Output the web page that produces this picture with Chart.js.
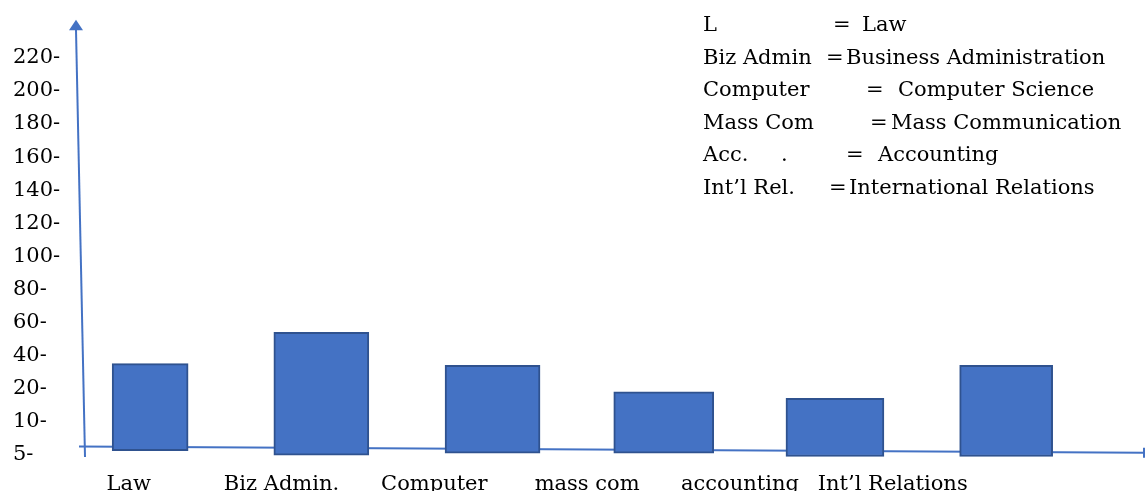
<!DOCTYPE html>
<html>
<head>
<meta charset="utf-8">
<script src="https://cdn.jsdelivr.net/npm/chart.js@4.4.1/dist/chart.umd.min.js"></script>
<style>
  html, body { margin: 0; padding: 0; background: #fff; }
  #wrap { width: 1145px; height: 491px; position: relative; }
</style>
</head>
<body>
<div id="wrap"><canvas id="c"></canvas></div>
<script>
// Programmes and number of students in each
const programmes = ['Law', 'Biz Admin.', 'Computer', 'mass com', 'accounting', 'Int\u2019l Relations'];
const students = [35, 54, 34, 19, 17, 34];
// hand-drawn bars do not all start exactly at the baseline
const barBase = [5.6, 4.9, 5.2, 5.2, 4.7, 4.7];

// The vertical axis is marked at uneven steps, each step the same height
const yTickValues = [5, 10, 20, 40, 60, 80, 100, 120, 140, 160, 180, 200, 220];
const yTickLabels = yTickValues.map(v => v + '-');

// Key of abbreviations
const keyShort = ['L', 'Biz Admin', 'Computer', 'Mass Com', 'Acc.', 'Int\u2019l Rel.'];
const keyFull = ['Law', 'Business Administration', 'Computer Science', 'Mass Communication', 'Accounting', 'International Relations'];

// layout of the key (pixel columns for "=" and the full name)
const keyEqX = [833, 826, 866, 870, 846, 829];
const keyDefX = [862, 846, 898, 891, 878, 849];
const barWidths = [76, 95, 95, 100, 98, 93];

const FONT = '"DejaVu Serif", "Liberation Serif", serif';
const FONT_SIZE = 21;
const BLUE = '#4472c4';
const BLUE_DARK = '#2f528f';

// value -> position on the stepped axis (one unit per marked step)
function axisPos(v) {
  const t = yTickValues;
  if (v <= t[0]) return (v - t[0]) / (t[1] - t[0]);
  for (let i = 1; i < t.length; i++) {
    if (v <= t[i]) return i - 1 + (v - t[i - 1]) / (t[i] - t[i - 1]);
  }
  return t.length - 1;
}

const datasets = programmes.map((p, i) => ({
  label: p,
  data: [{ x: i, y: [axisPos(barBase[i]), axisPos(students[i])] }],
  barThickness: barWidths[i],
  grouped: false,
  backgroundColor: BLUE,
  borderColor: BLUE_DARK,
  borderWidth: 2,
  borderSkipped: false,
  xAxisID: 'x',
  yAxisID: 'y'
}));

const sketchAxes = {
  id: 'sketchAxes',
  beforeDatasetsDraw(chart) {
    const { ctx, chartArea: a, scales: { y } } = chart;
    ctx.save();
    ctx.strokeStyle = BLUE;
    ctx.fillStyle = BLUE;
    ctx.lineWidth = 2;
    ctx.lineCap = 'butt';

    // horizontal axis, drifting slightly downward to the right
    const x0 = a.left + 3, y0 = y.getPixelForValue(0.24);
    const x1 = a.right - 1, y1 = y.getPixelForValue(0.055);
    ctx.beginPath();
    ctx.moveTo(x0, y0);
    ctx.lineTo(x1, y1);
    ctx.stroke();
    ctx.beginPath();
    ctx.moveTo(x1, y1 - 5);
    ctx.lineTo(x1, y1 + 5);
    ctx.stroke();

    // vertical axis leaning slightly, with an arrow head
    const bx = a.left + 9, by = y.getPixelForValue(-0.076);
    const tx = a.left, ty = y.getPixelForValue(12.85);
    ctx.beginPath();
    ctx.moveTo(bx, by);
    ctx.lineTo(tx, ty);
    ctx.stroke();
    ctx.beginPath();
    ctx.moveTo(tx, ty - 10);
    ctx.lineTo(tx - 7, ty + 0.5);
    ctx.lineTo(tx + 7, ty + 0.5);
    ctx.closePath();
    ctx.fill();
    ctx.restore();
  },
  afterDraw(chart) {
    const { ctx } = chart;
    ctx.save();
    ctx.fillStyle = '#000';
    ctx.font = FONT_SIZE + 'px ' + FONT;
    ctx.textAlign = 'left';
    ctx.textBaseline = 'alphabetic';
    keyShort.forEach((s, i) => {
      const by = 31 + i * 32.6;
      ctx.fillText(s, 703, by);
      if (s === 'Acc.') ctx.fillText('.', 781, by);
      ctx.fillText('=', keyEqX[i], by);
      ctx.fillText(keyFull[i], keyDefX[i], by);
    });
    ctx.restore();
  }
};

new Chart(document.getElementById('c'), {
  type: 'bar',
  data: { datasets },
  options: {
    responsive: true,
    maintainAspectRatio: false,
    animation: false,
    events: [],
    layout: { padding: { left: 13, top: 10, right: 0, bottom: 0 } },
    plugins: { legend: { display: false }, tooltip: { enabled: false } },
    scales: {
      x: {
        type: 'linear',
        display: false,
        offset: false,
        min: -0.433,
        max: 5.811
      },
      x2: {
        type: 'linear',
        position: 'bottom',
        offset: false,
        min: -0.345,
        max: 6.651,
        grid: { display: false, drawTicks: false, offset: false },
        border: { display: false },
        afterBuildTicks: s => { s.ticks = programmes.map((_, i) => ({ value: i })); },
        afterFit: s => { s.height = 31; s.paddingLeft = 0; s.paddingRight = 0; },
        ticks: {
          callback: v => programmes[v],
          font: { family: FONT, size: FONT_SIZE },
          color: '#000',
          padding: 12,
          autoSkip: false,
          maxRotation: 0,
          minRotation: 0
        }
      },
      y: {
        type: 'linear',
        position: 'left',
        min: -0.166,
        max: 13.45,
        grid: { display: false, drawTicks: false },
        border: { display: false },
        afterBuildTicks: s => { s.ticks = yTickLabels.map((_, i) => ({ value: i })); },
        afterFit: s => { s.width = 63; s.paddingTop = 0; s.paddingBottom = 0; },
        ticks: {
          callback: v => yTickLabels[v],
          crossAlign: 'far',
          font: { family: FONT, size: FONT_SIZE },
          color: '#000',
          autoSkip: false
        }
      }
    }
  },
  plugins: [sketchAxes]
});
</script>
</body>
</html>
